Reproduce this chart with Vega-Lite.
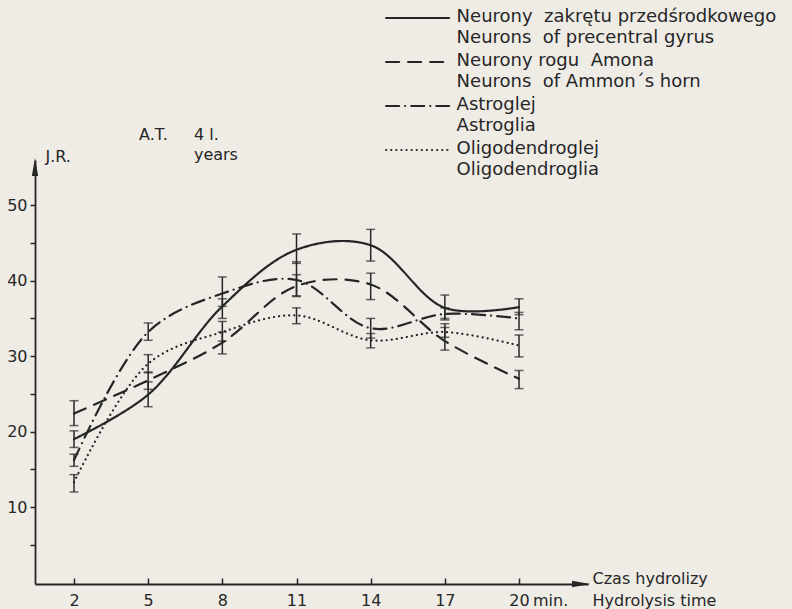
{
  "$schema": "https://vega.github.io/schema/vega-lite/v6.json",
  "width": 553,
  "height": 424,
  "autosize": "none",
  "padding": {"left": 35, "top": 160, "right": 204, "bottom": 25},
  "background": "#efece6",
  "config": {
    "view": {"stroke": null},
    "font": "DejaVu Sans",
    "axis": {"grid": false, "domainColor": "#262626", "domainWidth": 1.8, "tickColor": "#262626", "tickWidth": 1.5, "labelColor": "#262626", "labelFontSize": 16, "labelFont": "DejaVu Sans", "titleFont": "DejaVu Sans", "titleFontSize": 16, "titleFontWeight": "normal", "titleColor": "#262626"},
    "legend": {"labelFont": "DejaVu Sans", "labelFontSize": 18, "labelColor": "#262626"}
  },
  "datasets": {
    "pts": [
      {"s": "Neurony  zakrętu przedśrodkowego|Neurons  of precentral gyrus", "t": 2, "v": 19.0, "lo": 17.9, "hi": 20.1},
      {"s": "Neurony  zakrętu przedśrodkowego|Neurons  of precentral gyrus", "t": 5, "v": 24.9, "lo": 23.3, "hi": 26.6},
      {"s": "Neurony  zakrętu przedśrodkowego|Neurons  of precentral gyrus", "t": 8, "v": 36.6, "lo": 35.0, "hi": 37.6},
      {"s": "Neurony  zakrętu przedśrodkowego|Neurons  of precentral gyrus", "t": 11, "v": 44.1, "lo": 42.3, "hi": 46.2},
      {"s": "Neurony  zakrętu przedśrodkowego|Neurons  of precentral gyrus", "t": 14, "v": 44.7, "lo": 42.6, "hi": 46.8},
      {"s": "Neurony  zakrętu przedśrodkowego|Neurons  of precentral gyrus", "t": 17, "v": 36.4, "lo": 35.0, "hi": 38.1},
      {"s": "Neurony  zakrętu przedśrodkowego|Neurons  of precentral gyrus", "t": 20, "v": 36.5, "lo": 35.5, "hi": 37.6},
      {"s": "Neurony rogu  Amona|Neurons  of Ammon´s  horn", "t": 2, "v": 22.4, "lo": 20.8, "hi": 24.1},
      {"s": "Neurony rogu  Amona|Neurons  of Ammon´s  horn", "t": 5, "v": 26.8, "lo": 25.6, "hi": 27.9},
      {"s": "Neurony rogu  Amona|Neurons  of Ammon´s  horn", "t": 8, "v": 31.8, "lo": 30.3, "hi": 33.2},
      {"s": "Neurony rogu  Amona|Neurons  of Ammon´s  horn", "t": 11, "v": 39.3, "lo": 37.9, "hi": 40.8},
      {"s": "Neurony rogu  Amona|Neurons  of Ammon´s  horn", "t": 14, "v": 39.5, "lo": 37.5, "hi": 41.0},
      {"s": "Neurony rogu  Amona|Neurons  of Ammon´s  horn", "t": 17, "v": 32.0, "lo": 30.8, "hi": 34.3},
      {"s": "Neurony rogu  Amona|Neurons  of Ammon´s  horn", "t": 20, "v": 27.0, "lo": 25.7, "hi": 28.1},
      {"s": "Astroglej|Astroglia", "t": 2, "v": 16.2, "lo": 15.4, "hi": 17.0},
      {"s": "Astroglej|Astroglia", "t": 5, "v": 33.2, "lo": 32.1, "hi": 34.4},
      {"s": "Astroglej|Astroglia", "t": 8, "v": 38.3, "lo": 36.6, "hi": 40.5},
      {"s": "Astroglej|Astroglia", "t": 11, "v": 40.1, "lo": 38.0, "hi": 42.5},
      {"s": "Astroglej|Astroglia", "t": 14, "v": 33.7, "lo": 32.4, "hi": 35.0},
      {"s": "Astroglej|Astroglia", "t": 17, "v": 35.6, "lo": 34.8, "hi": 36.4},
      {"s": "Astroglej|Astroglia", "t": 20, "v": 35.0, "lo": 33.5, "hi": 35.8},
      {"s": "Oligodendroglej|Oligodendroglia", "t": 2, "v": 13.3, "lo": 12.0, "hi": 14.3},
      {"s": "Oligodendroglej|Oligodendroglia", "t": 5, "v": 29.0, "lo": 27.8, "hi": 30.2},
      {"s": "Oligodendroglej|Oligodendroglia", "t": 8, "v": 33.2, "lo": 32.0, "hi": 34.6},
      {"s": "Oligodendroglej|Oligodendroglia", "t": 11, "v": 35.4, "lo": 34.3, "hi": 36.4},
      {"s": "Oligodendroglej|Oligodendroglia", "t": 14, "v": 32.1, "lo": 31.1, "hi": 33.0},
      {"s": "Oligodendroglej|Oligodendroglia", "t": 17, "v": 33.2, "lo": 32.5, "hi": 33.8},
      {"s": "Oligodendroglej|Oligodendroglia", "t": 20, "v": 31.4, "lo": 29.9, "hi": 32.8}
    ]
  },
  "data": {"name": "pts"},
  "layer": [
    {
      "mark": {"type": "line", "interpolate": "catmull-rom", "color": "#262626", "strokeWidth": 2.2, "strokeCap": "round", "clip": false},
      "encoding": {
        "x": {"field": "t", "type": "quantitative", "scale": {"domain": [0.422, 22.79], "nice": false, "zero": false},
          "axis": {"values": [2, 5, 8, 11, 14, 17, 20], "tickSize": -6, "labelPadding": 14, "labelFlush": false, "labelOverlap": false,
            "title": ["Czas hydrolizy", "Hydrolysis time"], "titleAnchor": "start", "titleAlign": "left", "titleBaseline": "top", "titleX": 557, "titleY": -14, "titleLineHeight": 22}},
        "y": {"field": "v", "type": "quantitative", "scale": {"domain": [-0.2, 56], "nice": false, "zero": false},
          "axis": {"values": [5, 10, 15, 20, 25, 30, 35, 40, 45, 50], "labelExpr": "datum.value % 10 === 0 ? datum.label : ''", "tickSize": 5, "labelPadding": 3,
            "title": "J.R.", "titleAngle": 0, "titleAlign": "left", "titleBaseline": "middle", "titleX": 10, "titleY": -4}},
        "strokeDash": {"field": "s", "type": "nominal",
          "scale": {"domain": ["Neurony  zakrętu przedśrodkowego|Neurons  of precentral gyrus", "Neurony rogu  Amona|Neurons  of Ammon´s  horn", "Astroglej|Astroglia", "Oligodendroglej|Oligodendroglia"],
            "range": [[1, 0], [13, 9], [13, 6, 0.1, 6], [0.1, 5]]},
          "legend": {"title": null, "orient": "none", "legendX": 373.6, "legendY": -151, "symbolType": "M-4,0L4,0", "symbolSize": 248, "symbolStrokeWidth": 2.2, "symbolStrokeColor": "#262626", "symbolFillColor": "transparent", "labelOffset": 30, "rowPadding": 5, "padding": 0, "labelLimit": 400,
            "labelExpr": "split(replace(replace(datum.label, '  ', '\u00a0 '), '  ', '\u00a0 '), '|')",
            "encode": {"labels": {"update": {"lineHeight": {"value": 21}, "baseline": {"value": "top"}, "dy": {"value": -10}}}, "symbols": {"update": {"strokeCap": {"value": "round"}}}}}}
      }
    },
    {
      "mark": {"type": "rule", "color": "#262626", "strokeWidth": 1.5},
      "encoding": {"x": {"field": "t", "type": "quantitative"}, "y": {"field": "lo", "type": "quantitative"}, "y2": {"field": "hi"}}
    },
    {
      "mark": {"type": "tick", "orient": "horizontal", "color": "#262626", "size": 9, "thickness": 1.5},
      "encoding": {"x": {"field": "t", "type": "quantitative"}, "y": {"field": "lo", "type": "quantitative"}}
    },
    {
      "mark": {"type": "tick", "orient": "horizontal", "color": "#262626", "size": 9, "thickness": 1.5},
      "encoding": {"x": {"field": "t", "type": "quantitative"}, "y": {"field": "hi", "type": "quantitative"}}
    },
    {
      "data": {"values": [{}]},
      "mark": {"type": "point", "shape": "M-0.35,1L0,-1L0.35,1Z", "filled": true, "color": "#262626", "size": 324, "opacity": 1, "clip": false},
      "encoding": {"x": {"datum": 0.422}, "y": {"datum": 55.07}}
    },
    {
      "data": {"values": [{}]},
      "mark": {"type": "point", "shape": "M-1,-0.35L1,0L-1,0.35Z", "filled": true, "color": "#262626", "size": 324, "opacity": 1, "clip": false},
      "encoding": {"x": {"datum": 22.51}, "y": {"datum": -0.2}}
    },
    {
      "data": {"values": [{}]},
      "mark": {"type": "text", "align": "left", "baseline": "top", "fontSize": 16, "color": "#262626", "clip": false, "dx": 14, "dy": 9},
      "encoding": {"x": {"datum": 20}, "y": {"datum": -0.2}, "text": {"value": "min."}}
    },
    {
      "data": {"values": [{}]},
      "mark": {"type": "text", "align": "left", "baseline": "middle", "fontSize": 16, "color": "#262626", "clip": false},
      "encoding": {"x": {"datum": 4.63}, "y": {"datum": 59.3}, "text": {"value": "A.T."}}
    },
    {
      "data": {"values": [{}]},
      "mark": {"type": "text", "align": "left", "baseline": "middle", "fontSize": 16, "color": "#262626", "clip": false},
      "encoding": {"x": {"datum": 6.85}, "y": {"datum": 59.3}, "text": {"value": "4 l."}}
    },
    {
      "data": {"values": [{}]},
      "mark": {"type": "text", "align": "left", "baseline": "middle", "fontSize": 16, "color": "#262626", "clip": false},
      "encoding": {"x": {"datum": 6.85}, "y": {"datum": 56.66}, "text": {"value": "years"}}
    }
  ]
}
